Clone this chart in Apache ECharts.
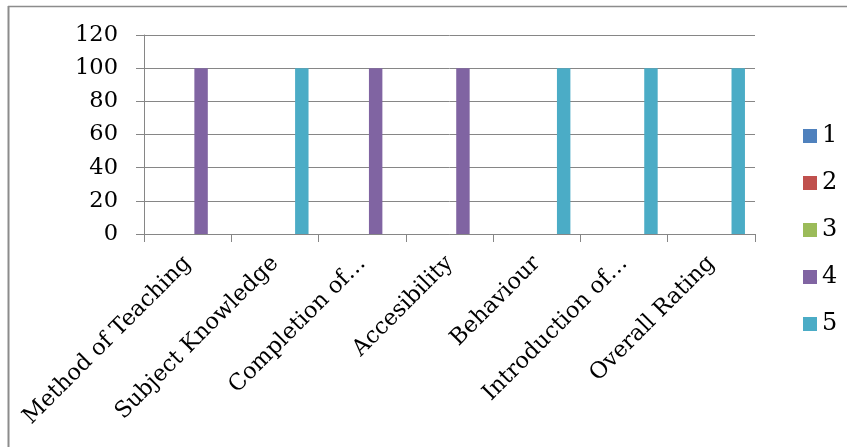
<!DOCTYPE html>
<html>
<head>
<meta charset="utf-8">
<script src="https://cdn.jsdelivr.net/npm/echarts@6/dist/echarts.min.js"></script>
<style>html,body{margin:0;padding:0;background:#fff}#c{width:847px;height:447px}</style>
</head>
<body>
<div id="c"></div>
<script>
const categories = ["Method of Teaching","Subject Knowledge","Completion of…","Accesibility","Behaviour","Introduction of…","Overall Rating"];
const seriesNames = ["1","2","3","4","5"];
const s1 = [0,0,0,0,0,0,0];
const s2 = [0,0,0,0,0,0,0];
const s3 = [0,0,0,0,0,0,0];
const s4 = [100,0,100,100,0,0,0];
const s5 = [0,100,0,0,100,100,100];
const colors = ["#4F81BD","#C0504D","#9BBB59","#8064A2","#4BACC6"];
const values = [s1,s2,s3,s4,s5];
const font = "DejaVu Serif";
const chart = echarts.init(document.getElementById('c'));
chart.setOption({
  animation:false,
  color:colors,
  graphic:[
    {type:'line',shape:{x1:8,y1:6.5,x2:847,y2:6.5},style:{stroke:'#8c8c8c',lineWidth:1.5}},
    {type:'line',shape:{x1:8.5,y1:6,x2:8.5,y2:447},style:{stroke:'#8c8c8c',lineWidth:2}}
  ],
  grid:{left:144,right:92,top:35,bottom:213,containLabel:false},
  legend:{orient:'vertical',left:798,top:119,itemWidth:14,itemHeight:14,itemGap:23,icon:'rect',
    textStyle:{fontFamily:font,fontSize:24,color:'#000'},data:seriesNames},
  xAxis:{type:'category',data:categories,
    axisLine:{lineStyle:{color:'#868686'}},
    axisTick:{show:true,length:8,alignWithLabel:false,lineStyle:{color:'#868686'}},
    axisLabel:{interval:0,rotate:45,margin:26,fontFamily:font,fontSize:22.5,color:'#000'}},
  yAxis:{type:'value',min:0,max:120,interval:20,
    axisLine:{show:true,lineStyle:{color:'#868686'}},
    axisTick:{show:true,length:8,lineStyle:{color:'#868686'}},
    splitLine:{lineStyle:{color:'#868686'}},
    axisLabel:{margin:26,fontFamily:font,fontSize:22.5,color:'#000'}},
  series:values.map((v,i)=>({name:seriesNames[i],type:'bar',data:v,barGap:'0%',barCategoryGap:'23%'}))
});
</script>
</body>
</html>
